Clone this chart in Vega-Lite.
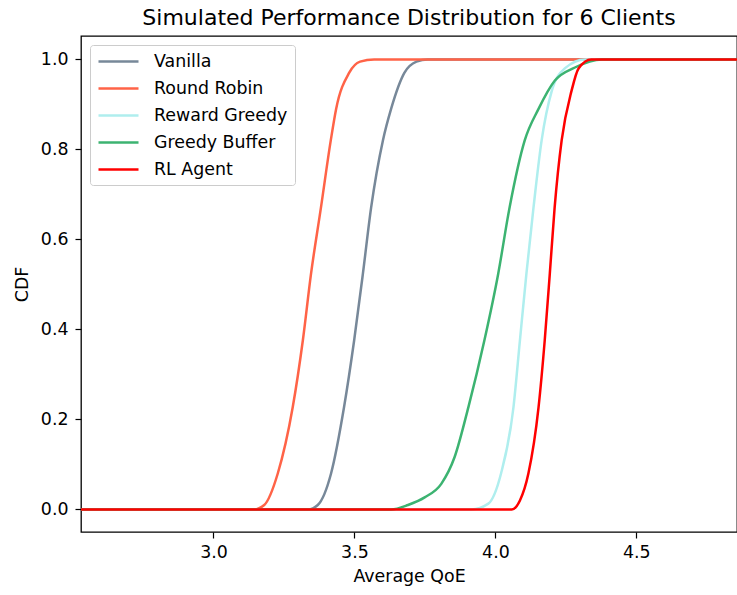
{
  "$schema": "https://vega.github.io/schema/vega-lite/v6.json",
  "width": 656,
  "height": 496,
  "autosize": {"type": "none"},
  "padding": {"left": 81, "top": 36, "right": 0, "bottom": 63},
  "background": "white",
  "title": {"text": "Simulated Performance Distribution for 6 Clients", "font": "DejaVu Sans", "fontSize": 22, "fontWeight": "normal", "color": "black", "anchor": "middle", "offset": 6},
  "config": {
    "view": {"stroke": "black", "strokeWidth": 1.3},
    "axis": {"domain": false, "grid": false, "tickColor": "black", "tickSize": 6, "tickWidth": 1.2, "labelFont": "DejaVu Sans", "labelFontSize": 17.4, "labelColor": "black", "titleFont": "DejaVu Sans", "titleFontSize": 17.4, "titleFontWeight": "normal", "titleColor": "black"},
    "legend": {"labelFont": "DejaVu Sans", "labelFontSize": 17.4, "labelColor": "black"}
  },
  "data": {"values": [
    {"series": "Vanilla", "x": 2.5, "p": 0},
    {"series": "Vanilla", "x": 3.335, "p": 0},
    {"series": "Vanilla", "x": 3.37, "p": 0.01},
    {"series": "Vanilla", "x": 3.417, "p": 0.08},
    {"series": "Vanilla", "x": 3.463, "p": 0.227},
    {"series": "Vanilla", "x": 3.499, "p": 0.376},
    {"series": "Vanilla", "x": 3.53, "p": 0.524},
    {"series": "Vanilla", "x": 3.559, "p": 0.67},
    {"series": "Vanilla", "x": 3.601, "p": 0.82},
    {"series": "Vanilla", "x": 3.63, "p": 0.89},
    {"series": "Vanilla", "x": 3.677, "p": 0.97},
    {"series": "Vanilla", "x": 3.72, "p": 0.995},
    {"series": "Vanilla", "x": 3.76, "p": 1},
    {"series": "Vanilla", "x": 4.9, "p": 1},
    {"series": "Round Robin", "x": 2.5, "p": 0},
    {"series": "Round Robin", "x": 3.143, "p": 0},
    {"series": "Round Robin", "x": 3.18, "p": 0.01},
    {"series": "Round Robin", "x": 3.228, "p": 0.08},
    {"series": "Round Robin", "x": 3.281, "p": 0.227},
    {"series": "Round Robin", "x": 3.317, "p": 0.376},
    {"series": "Round Robin", "x": 3.346, "p": 0.524},
    {"series": "Round Robin", "x": 3.381, "p": 0.67},
    {"series": "Round Robin", "x": 3.416, "p": 0.82},
    {"series": "Round Robin", "x": 3.435, "p": 0.89},
    {"series": "Round Robin", "x": 3.481, "p": 0.97},
    {"series": "Round Robin", "x": 3.52, "p": 0.995},
    {"series": "Round Robin", "x": 3.57, "p": 1},
    {"series": "Round Robin", "x": 4.9, "p": 1},
    {"series": "Reward Greedy", "x": 2.5, "p": 0},
    {"series": "Reward Greedy", "x": 3.915, "p": 0},
    {"series": "Reward Greedy", "x": 3.975, "p": 0.013},
    {"series": "Reward Greedy", "x": 4.02, "p": 0.08},
    {"series": "Reward Greedy", "x": 4.064, "p": 0.227},
    {"series": "Reward Greedy", "x": 4.087, "p": 0.376},
    {"series": "Reward Greedy", "x": 4.11, "p": 0.524},
    {"series": "Reward Greedy", "x": 4.135, "p": 0.67},
    {"series": "Reward Greedy", "x": 4.164, "p": 0.82},
    {"series": "Reward Greedy", "x": 4.2, "p": 0.93},
    {"series": "Reward Greedy", "x": 4.246, "p": 0.98},
    {"series": "Reward Greedy", "x": 4.318, "p": 1},
    {"series": "Reward Greedy", "x": 4.9, "p": 1},
    {"series": "Greedy Buffer", "x": 2.5, "p": 0},
    {"series": "Greedy Buffer", "x": 3.63, "p": 0},
    {"series": "Greedy Buffer", "x": 3.69, "p": 0.01},
    {"series": "Greedy Buffer", "x": 3.749, "p": 0.027},
    {"series": "Greedy Buffer", "x": 3.808, "p": 0.057},
    {"series": "Greedy Buffer", "x": 3.855, "p": 0.116},
    {"series": "Greedy Buffer", "x": 3.904, "p": 0.227},
    {"series": "Greedy Buffer", "x": 3.961, "p": 0.376},
    {"series": "Greedy Buffer", "x": 4.01, "p": 0.524},
    {"series": "Greedy Buffer", "x": 4.05, "p": 0.67},
    {"series": "Greedy Buffer", "x": 4.104, "p": 0.82},
    {"series": "Greedy Buffer", "x": 4.153, "p": 0.89},
    {"series": "Greedy Buffer", "x": 4.211, "p": 0.953},
    {"series": "Greedy Buffer", "x": 4.282, "p": 0.982},
    {"series": "Greedy Buffer", "x": 4.378, "p": 1},
    {"series": "Greedy Buffer", "x": 4.9, "p": 1},
    {"series": "RL Agent", "x": 2.5, "p": 0},
    {"series": "RL Agent", "x": 4.058, "p": 0},
    {"series": "RL Agent", "x": 4.087, "p": 0.02},
    {"series": "RL Agent", "x": 4.117, "p": 0.08},
    {"series": "RL Agent", "x": 4.153, "p": 0.227},
    {"series": "RL Agent", "x": 4.175, "p": 0.376},
    {"series": "RL Agent", "x": 4.193, "p": 0.524},
    {"series": "RL Agent", "x": 4.21, "p": 0.67},
    {"series": "RL Agent", "x": 4.235, "p": 0.82},
    {"series": "RL Agent", "x": 4.27, "p": 0.93},
    {"series": "RL Agent", "x": 4.295, "p": 0.98},
    {"series": "RL Agent", "x": 4.34, "p": 1},
    {"series": "RL Agent", "x": 4.9, "p": 1}
  ]},
  "mark": {"type": "line", "strokeWidth": 2.5, "clip": true, "interpolate": "monotone"},
  "encoding": {
    "x": {"field": "x", "type": "quantitative", "title": "Average QoE",
      "scale": {"domain": [2.53, 4.857], "nice": false, "zero": false},
      "axis": {"values": [3.0, 3.5, 4.0, 4.5], "format": ".1f", "labelPadding": 5, "titlePadding": 7}},
    "y": {"field": "p", "type": "quantitative", "title": "CDF",
      "scale": {"domain": [-0.05, 1.052], "nice": false, "zero": false},
      "axis": {"values": [0, 0.2, 0.4, 0.6, 0.8, 1.0], "format": ".1f", "labelPadding": 7, "titlePadding": 9}},
    "color": {"field": "series", "type": "nominal",
      "scale": {"domain": ["Vanilla", "Round Robin", "Reward Greedy", "Greedy Buffer", "RL Agent"],
        "range": ["#778899", "#FF6347", "#AFEEEE", "#3CB371", "#FF0000"]},
      "legend": {"title": null, "orient": "top-left", "offset": 9, "symbolType": "M-2.5,0L2.5,0", "symbolSize": 256, "symbolStrokeWidth": 2.6, "symbolOffset": 12, "labelOffset": 26, "rowPadding": 9, "padding": 7, "strokeColor": "#cccccc", "fillColor": "white", "cornerRadius": 3}}
  }
}
